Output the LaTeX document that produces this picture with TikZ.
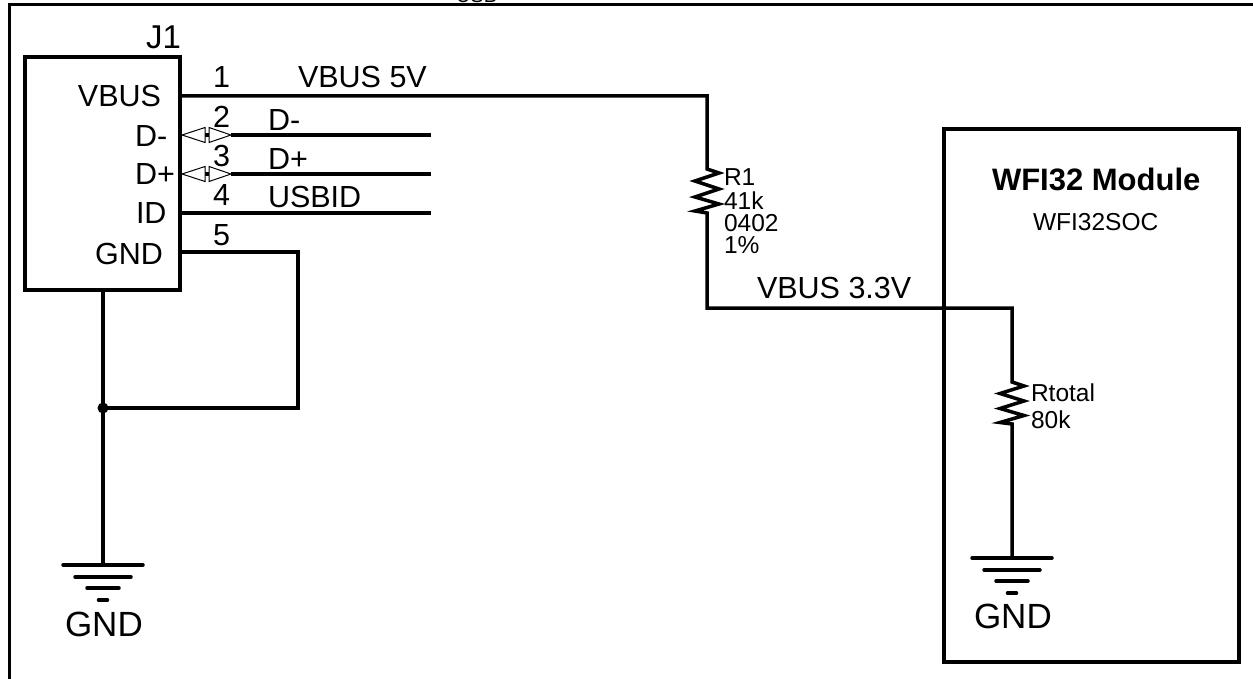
\documentclass[tikz,border=0pt]{standalone}
\usepackage{fontspec}
\usetikzlibrary{calc}
\setmainfont{Liberation Sans}
\tikzset{
  wire/.style={line width=3.5pt,line join=miter},
  heavy/.style={line width=4pt,line join=miter},
  gndbar/.style={line width=3.5pt,line cap=round},
  tri/.style={draw,fill=white,line width=1pt,line join=miter},
  lbl/.style={anchor=base west,inner sep=0pt,outer sep=0pt,font=\fontsize{30.5}{30.5}\selectfont},
  lblr/.style={anchor=base east,inner sep=0pt,outer sep=0pt,font=\fontsize{30.5}{30.5}\selectfont},
  small/.style={anchor=base west,inner sep=0pt,outer sep=0pt,font=\fontsize{24.5}{24.5}\selectfont},
  gndtxt/.style={anchor=base west,inner sep=0pt,outer sep=0pt,font=\fontsize{35}{35}\selectfont},
  pt/.style={circle,fill=black,inner sep=0pt,minimum size=11pt}
}
\begin{document}
\begin{tikzpicture}[x=1pt,y=-1pt]
\useasboundingbox (0,0) rectangle (1253,679);
\begin{scope}
\clip (0,0) rectangle (1253,679);
\draw[line width=3pt] (9,679) -- (9,5) -- (1253,5);
\node[small,font=\fontsize{20}{20}\selectfont] (top) at (456,3) {USB};
\end{scope}
% J1
\draw[heavy] (25,57) rectangle (180,290);
\coordinate (p1) at (180,96);
\coordinate (p2) at (182,135);
\coordinate (p3) at (182,174);
\coordinate (p4) at (180,213);
\coordinate (p5) at (180,252);
\coordinate (vtop) at (707,96);
\coordinate (vbot) at (707,308);
\coordinate (r1a) at (707,169);
\coordinate (r1b) at (707,213);
\coordinate (n33) at (1012,308);
\coordinate (rta) at (1012,382);
\coordinate (rtb) at (1012,424);
\coordinate (g2) at (1012,558);
\coordinate (jt) at (103,290);
\coordinate (j) at (103,408);
\coordinate (g1) at (103,565);
\coordinate (gr) at (298,408);
\coordinate (gu) at (298,252);
\coordinate (e2) at (431,135);
\coordinate (e3) at (431,174);
\coordinate (e4) at (431,213);
% wires
\draw[wire] (p1) -- (vtop) -- (r1a) -- ++(12,4) -- ++(-24,8) -- ++(24,8) -- ++(-24,8) -- ++(24,7) -- ++(-24,7) -- (r1b) -- (vbot) -- (n33) -- (rta) -- ++(12,4) -- ++(-24,7.5) -- ++(24,7.5) -- ++(-24,7.5) -- ++(24,7) -- ++(-24,7) -- (rtb) -- (g2);
\draw[wire] (jt) -- (g1);
\node[pt] (jn) at (j) {};
\draw[wire] (jn.center) -- (gr) -- (gu) -- (p5);
\draw[wire] (p4) -- (e4);
\foreach \y/\e in {135/e2,174/e3}{
  \draw[wire] (231,\y) -- (\e);
  \draw[line width=3.5pt] (205,\y) -- (209,\y);
  \draw[tri] (182,\y) -- (205,\y-7.5) -- (205,\y+7.5) -- cycle;
  \draw[tri] (231,\y) -- (209,\y-7.5) -- (209,\y+7.5) -- cycle;
}
% grounds
\foreach \c in {g1,g2}{
  \draw[gndbar] ($(\c)+(-40,0)$) -- ($(\c)+(40,0)$);
  \draw[gndbar] ($(\c)+(-28,12)$) -- ($(\c)+(28,12)$);
  \draw[gndbar] ($(\c)+(-16,23)$) -- ($(\c)+(16,23)$);
  \draw[gndbar] ($(\c)+(-4.5,35)$) -- ($(\c)+(4.5,35)$);
}
% module
\draw[heavy] (944,129) rectangle (1239,662);
% labels
\node[lblr] (tv) at (161,107) {VBUS};
\node[lbl] (tdm) at (135,147) {D-};
\node[lbl] (tdp) at (135,185) {D+};
\node[lbl] (tid) at (136,224) {ID};
\node[lblr] (tg) at (163,264) {GND};
\node[lbl,font=\fontsize{33}{33}\selectfont] (tj) at (146,49) {J1};
\node[lbl] (n1) at (213,88) {1};
\node[lbl] (n2) at (213,128) {2};
\node[lbl] (n3) at (213,167) {3};
\node[lbl] (n4) at (213,206) {4};
\node[lbl] (n5) at (213,245) {5};
\node[lbl] (nv5) at (298,88) {VBUS 5V};
\node[lbl] (nd1) at (268,131) {D-};
\node[lbl] (nd2) at (268,170) {D+};
\node[lbl] (nu) at (268,208) {USBID};
\node[small] (r1) at (724,186) {R1};
\node[small] (r2) at (724,210) {41k};
\node[small] (r3) at (724,232) {0402};
\node[small] (r4) at (724,254) {1\%};
\node[lbl] (nv3) at (757,298) {VBUS 3.3V};
\node[lbl,font=\fontsize{31}{31}\selectfont\bfseries] (m1) at (992,191) {WFI32 Module};
\node[small] (m2) at (1033,230) {WFI32SOC};
\node[small] (rt1) at (1031,401) {Rtotal};
\node[small] (rt2) at (1031,428) {80k};
\node[gndtxt] (g1t) at (65,636) {GND};
\node[gndtxt] (g2t) at (974,628) {GND};
\end{tikzpicture}
\end{document}
